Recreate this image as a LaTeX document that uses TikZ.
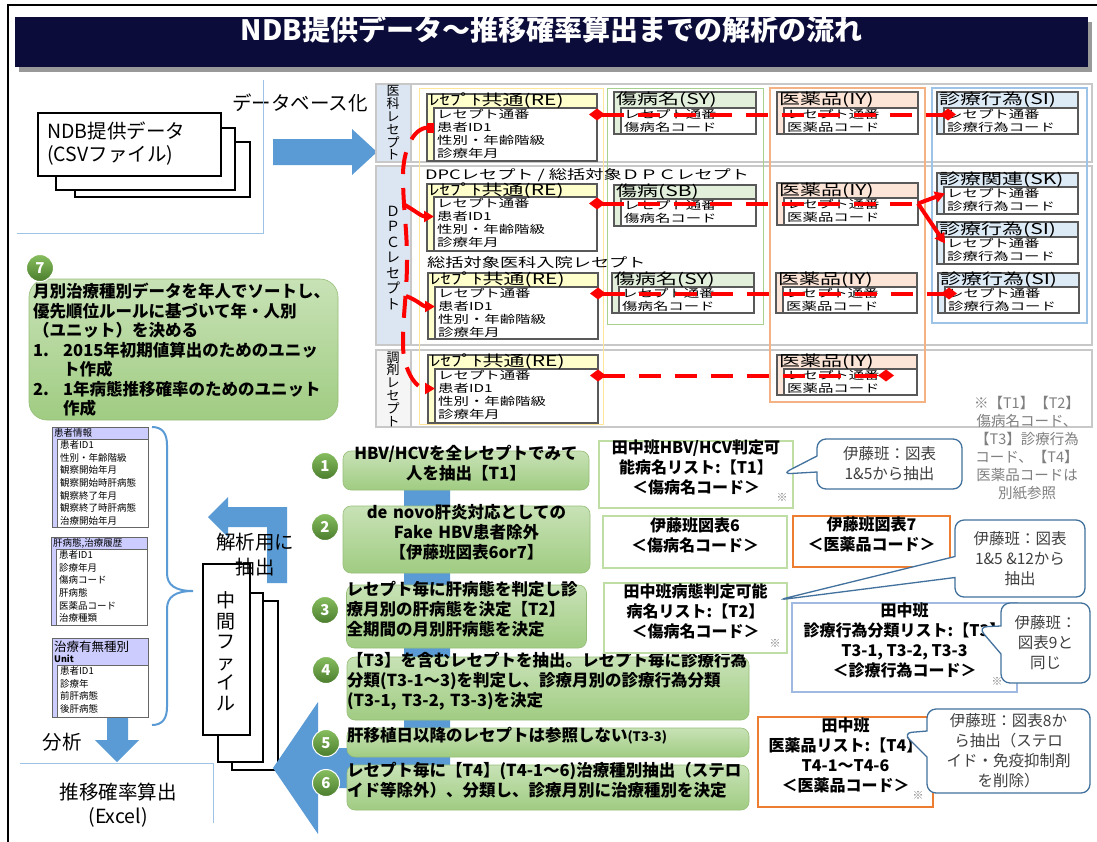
\documentclass[tikz,border=0pt]{standalone}
\usepackage{fontspec}
\setmainfont{Noto Sans CJK JP}
\newfontfamily\dbfont[FakeStretch=1.4]{Noto Sans CJK JP}
\usetikzlibrary{arrows.meta,positioning,fit,shapes.callouts}

\definecolor{titlenavy}{RGB}{12,12,58}
\definecolor{arrowblue}{RGB}{91,155,213}
\definecolor{linkred}{RGB}{255,0,0}
\definecolor{headyellow}{RGB}{255,255,204}
\definecolor{headgreen}{RGB}{226,239,218}
\definecolor{headorange}{RGB}{252,228,214}
\definecolor{headblue}{RGB}{221,235,247}
\definecolor{headpurple}{RGB}{204,204,255}
\definecolor{colyellow}{RGB}{255,230,153}
\definecolor{colgreen}{RGB}{169,209,142}
\definecolor{colorange}{RGB}{244,177,131}
\definecolor{colblue}{RGB}{157,195,230}
\definecolor{sectgray}{RGB}{200,200,200}
\definecolor{labelblue}{RGB}{220,230,242}
\definecolor{steptop}{RGB}{200,226,182}
\definecolor{stepbottom}{RGB}{160,204,130}
\definecolor{stepedge}{RGB}{150,190,120}
\definecolor{numtop}{RGB}{135,190,95}
\definecolor{numbottom}{RGB}{75,125,45}
\definecolor{boxgreen}{RGB}{190,222,165}
\definecolor{boxorange}{RGB}{237,125,49}
\definecolor{boxblue}{RGB}{160,185,225}
\definecolor{callblue}{RGB}{65,113,156}
\definecolor{notegray}{RGB}{128,128,128}
\definecolor{lineblue}{RGB}{157,195,230}

% table of the database panel: name, x1, y1, x2, header bottom, y2, colour, header, rows
\newcommand\dbtab[9]{%
  \draw[dbbox, fill=#7] (#2,#3) rectangle (#4,#6);
  \draw[dbbox, fill=white] ({#2+7},#5) rectangle (#4,#6);
  \node[dbhead, anchor=west] (#1) at ({#2+2},{(#3+#5)/2}) {#8};
  \node[dbrows, anchor=north west] (#1rows) at ({#2+10},{#5+1.5}) {#9};
  \coordinate (#1e) at (#4,{#5+6.5});
  \coordinate (#1w) at (#2,{#5+6.5});
  \coordinate (#1id) at ({#2+7},{#5+19.5});
}
% table of the left column: name, x1, y1, x2, header bottom, y2, header, rows
\newcommand\pttab[8]{%
  \draw[ptbox, fill=headpurple] (#2,#3) rectangle (#4,#6);
  \draw[ptbox, fill=white] ({#2+5},#5) rectangle (#4,#6);
  \node[pthead, anchor=west] (#1) at ({#2+2},{(#3+#5)/2}) {#7};
  \node[ptrows, anchor=north west] (#1rows) at ({#2+8},{#5+1.5}) {#8};
}

\begin{document}
\begin{tikzpicture}[
  x=1pt, y=-1pt,
  docsheet/.style={draw, line width=1.3pt, fill=white, inner sep=0pt},
  titlebar/.style={fill=titlenavy, text=white, inner sep=0pt, font=\bfseries\fontsize{28}{32}\selectfont},
  bigtext/.style={inner sep=0pt, font=\fontsize{19.5}{23}\selectfont},
  sect/.style={draw=sectgray, line width=2pt},
  vlabel/.style={inner sep=0pt, align=center, font=\fontsize{13}{12.8}\selectfont},
  dbbox/.style={draw=black!65, line width=1.2pt},
  dbhead/.style={inner sep=0pt, font=\dbfont\fontsize{15}{16}\selectfont},
  dbrows/.style={inner sep=0pt, align=left, font=\dbfont\fontsize{11}{12.8}\selectfont},
  dbnote/.style={inner sep=0pt, anchor=west, font=\dbfont\fontsize{13}{14}\selectfont},
  reflink/.style={draw=linkred, line width=4pt, dash pattern=on 22pt off 14pt},
  redbranch/.style={draw=linkred, line width=4pt},
  diatips/.style={arrows={Diamond[length=16pt,width=12pt]-Diamond[length=16pt,width=12pt]}},
  ptbox/.style={draw=black!60, line width=1pt},
  pthead/.style={inner sep=0pt, align=left, font=\fontsize{9.5}{11}\selectfont},
  ptrows/.style={inner sep=0pt, align=left, font=\fontsize{9.5}{12.6}\selectfont},
  thinline/.style={draw=lineblue, line width=0.8pt},
  stepbox/.style={rounded corners=8pt, draw=stepedge, line width=0.6pt, top color=steptop,
                  bottom color=stepbottom, inner sep=0pt, font=\bfseries\fontsize{16.5}{20}\selectfont},
  numdot/.style={circle, minimum size=27pt, inner sep=0pt, top color=numtop, bottom color=numbottom,
                 draw=white, line width=1pt, text=white, font=\bfseries\fontsize{15}{15}\selectfont},
  listbox/.style={draw=#1, line width=2.5pt, fill=white, inner sep=0pt, align=center,
                  font=\bfseries\fontsize{16}{20}\selectfont},
  callbox/.style={rectangle callout, draw=callblue, line width=1.3pt, fill=white, rounded corners=9pt,
                  align=center, inner sep=0pt, text=black!75, font=\fontsize{15.5}{20}\selectfont},
  notemark/.style={inner sep=0pt, text=notegray, font=\fontsize{11}{11}\selectfont},
  notetext/.style={inner sep=0pt, align=center, text=notegray, font=\fontsize{14.5}{18}\selectfont},
]
  \useasboundingbox (0,0) rectangle (1097,841);
  \fill[white] (0,0) rectangle (1097,841);
  \draw[line width=2.5pt] (8,845) -- (8,5) -- (1097,5);

  % Title
  \fill[black!40] (19,22) rectangle (1092,72);
  \node[titlebar, fit={(15,17) (1088,67)}] (title) {NDB提供データ～推移確率算出までの解析の流れ};

  % Source files
  \node[docsheet, fit={(75,142) (250,197)}] (ndbC) {};
  \node[docsheet, fit={(56,128) (235,190)}] (ndbB) {};
  \node[docsheet, fit={(38,113) (221,176)}] (ndbA) {};
  \node[bigtext, anchor=west, align=left] (ndb) at (47,144) {NDB提供データ\\(CSVファイル)};
  \node[bigtext] (dbword) at (300,103) {データベース化};
  \draw[thinline] (263,80) -- (263,233) -- (17,233);
  \fill[arrowblue] (273,139) -- (352,139) -- (352,129) -- (377,152) -- (352,175) -- (352,165) -- (273,165) -- cycle;

  % Database panel
  \draw[sect, fill=white] (376,84) rectangle (1092,162);
  \draw[sect, fill=white] (376,166) rectangle (1092,345);
  \draw[sect, fill=white] (376,350) rectangle (1092,427);
  \draw[sect, fill=labelblue] (376,84) rectangle (411,162);
  \draw[sect, fill=labelblue] (376,166) rectangle (411,345);
  \draw[sect, fill=black!4] (376,350) rectangle (411,427);
  \node[vlabel] (labA) at (393,123) {医\\科\\レ\\セ\\プ\\ト};
  \node[vlabel, font=\fontsize{14}{15.5}\selectfont] (labB) at (393,258) {Ｄ\\Ｐ\\Ｃ\\レ\\セ\\プ\\ト};
  \node[vlabel] (labC) at (393,389) {調\\剤\\レ\\セ\\プ\\ト};

  \draw[colyellow, line width=1pt] (419,88) rectangle (603,424);
  \draw[colgreen, line width=1pt] (607,88) rectangle (763,324);
  \draw[colorange, line width=1.2pt] (770,88) rectangle (925,402);
  \draw[colblue, line width=1.2pt] (932,88) rectangle (1087,323);

  \node[dbnote] (dpcnote) at (425,175) {DPCレセプト / 総括対象ＤＰＣレセプト};
  \node[dbnote] (inpnote) at (427,263) {総括対象医科入院レセプト};

  \dbtab{reA}{427}{94}{597}{108}{161}{headyellow}{ﾚｾﾌﾟﾄ共通(RE)}{レセプト通番\\患者ID1\\性別・年齢階級\\診療年月}
  \dbtab{reB}{427}{184}{597}{197}{251}{headyellow}{ﾚｾﾌﾟﾄ共通(RE)}{レセプト通番\\患者ID1\\性別・年齢階級\\診療年月}
  \dbtab{reC}{428}{273}{598}{287}{339}{headyellow}{ﾚｾﾌﾟﾄ共通(RE)}{レセプト通番\\患者ID1\\性別・年齢階級\\診療年月}
  \dbtab{reD}{428}{355}{598}{369}{423}{headyellow}{ﾚｾﾌﾟﾄ共通(RE)}{レセプト通番\\患者ID1\\性別・年齢階級\\診療年月}
  \dbtab{syA}{614}{92}{756}{108}{134}{headgreen}{傷病名(SY)}{レセプト通番\\傷病名コード}
  \dbtab{sbB}{614}{185}{756}{199}{226}{headgreen}{傷病(SB)}{レセプト通番\\傷病名コード}
  \dbtab{syC}{612}{273}{754}{287}{313}{headgreen}{傷病名(SY)}{レセプト通番\\傷病名コード}
  \dbtab{iyA}{777}{92}{918}{108}{134}{headorange}{医薬品(IY)}{レセプト通番\\医薬品コード}
  \dbtab{iyB}{777}{183}{918}{198}{225}{headorange}{医薬品(IY)}{レセプト通番\\医薬品コード}
  \dbtab{iyC}{776}{273}{917}{287}{313}{headorange}{医薬品(IY)}{レセプト通番\\医薬品コード}
  \dbtab{iyD}{777}{355}{917}{369}{395}{headorange}{医薬品(IY)}{レセプト通番\\医薬品コード}
  \dbtab{siA}{937}{92}{1078}{108}{134}{headblue}{診療行為(SI)}{レセプト通番\\診療行為コード}
  \dbtab{skB}{937}{173}{1078}{187}{214}{headblue}{診療関連(SK)}{レセプト通番\\診療行為コード}
  \dbtab{siB}{937}{222}{1078}{237}{264}{headblue}{診療行為(SI)}{レセプト通番\\診療行為コード}
  \dbtab{siC}{938}{273}{1079}{287}{313}{headblue}{診療行為(SI)}{レセプト通番\\診療行為コード}

  % Key links
  \draw[reflink, diatips] ([xshift=-8pt]reAe) -- ([xshift=19pt]siAw);
  \coordinate (dpcj) at (918,203.5);
  \draw[reflink, arrows={Diamond[length=16pt,width=12pt]-}] ([xshift=-8pt]reBe) -- (dpcj);
  \draw[redbranch, -{Triangle[length=10pt,width=11pt]}] (dpcj) -- ([xshift=8pt]skBw);
  \draw[redbranch, -{Triangle[length=10pt,width=11pt]}] (dpcj) -- ([xshift=8pt]siBw);
  \draw[reflink, diatips] ([xshift=-8pt]reCe) -- ([xshift=19pt]siCw);
  \draw[reflink, diatips] ([xshift=-8pt]reDe) -- ([xshift=117pt]iyDw);
  \draw[reflink, arrows={Square[length=7pt,width=10pt]-Triangle[length=10pt,width=11pt]}]
    (reAid) to[out=180,in=90] (403,175) to[out=-90,in=90] (407,260)
    to[out=-90,in=90] (403,345) to[out=-90,in=180] (reDid);
  \draw[redbranch, -{Triangle[length=10pt,width=11pt]}] (405,205) to[out=-30,in=180] (reBid);
  \draw[redbranch, -{Triangle[length=10pt,width=11pt]}] (406,296) to[out=-20,in=180] (reCid);

  % Unit box
  \node[stepbox, rounded corners=18pt, fit={(29,279) (338,420)}] (unitbox) {};
  \node[anchor=north west, inner sep=0pt, align=left, font=\bfseries\fontsize{16.5}{19.5}\selectfont] (unittxt)
    at (33,283) {月別治療種別データを年人でソートし、\\優先順位ルールに基づいて年・人別\\（ユニット）を決める\\
    \makebox[30pt][l]{1.}2015年初期値算出のためのユニッ\\\hspace*{30pt}ト作成\\
    \makebox[30pt][l]{2.}1年病態推移確率のためのユニット\\\hspace*{30pt}作成};
  \node[numdot] (n7) at (40,268) {7};

  % Output tables
  \pttab{ptA}{52}{427}{148}{439}{527}{患者情報}{患者ID1\\性別・年齢階級\\観察開始年月\\観察開始時肝病態\\観察終了年月\\観察終了時肝病態\\治療開始年月}
  \pttab{ptB}{51}{537}{147}{549}{625}{肝病態,治療履歴}{患者ID1\\診療年月\\傷病コード\\肝病態\\医薬品コード\\治療種類}
  \pttab{ptC}{52}{638}{148}{665}{717}{\fontsize{12.5}{12}\selectfont 治療有無種別\\\fontsize{9}{12}\selectfont\bfseries Unit}{患者ID1\\診療年\\前肝病態\\後肝病態}
  \draw[arrowblue, line width=2pt] (152,427) .. controls (162,427) and (167,433) .. (167,445) -- (167,573)
    .. controls (167,585) and (175,591) .. (193,591) .. controls (175,591) and (167,597) .. (167,609)
    -- (167,707) .. controls (167,719) and (162,725) .. (152,725);

  % Intermediate files
  \fill[arrowblue] (208,517) -- (228,497) -- (228,507) -- (287,507) -- (287,583) -- (267,583)
    -- (267,527) -- (228,527) -- (228,537) -- cycle;
  \node[docsheet, fit={(232,601) (278,770)}] (midC) {};
  \node[docsheet, fit={(218,593) (263,762)}] (midB) {};
  \node[docsheet, fit={(203,564) (250,735)}] (midA) {};
  \node[bigtext, align=center, font=\fontsize{19}{20.5}\selectfont] (midtxt) at (226,651) {中\\間\\フ\\ァ\\イ\\ル};
  \node[bigtext] (kaiseki) at (255,542) {解析用に};
  \node[bigtext] (chushutsu) at (255,567) {抽出};

  % Analysis
  \fill[arrowblue] (107,718) -- (128,718) -- (128,740) -- (139,740) -- (117,762) -- (95,740) -- (107,740) -- cycle;
  \node[bigtext] (bunseki) at (62,742) {分析};
  \draw[thinline] (20,763) -- (213,763) -- (213,823);
  \node[bigtext, align=center, font=\fontsize{19.5}{24}\selectfont] (excel) at (118,805) {推移確率算出\\(Excel)};

  % Steps
  \fill[arrowblue] (404,480) -- (450,480) -- (450,788) -- (318,788) -- (318,834) -- (273,768)
    -- (318,702) -- (318,748) -- (404,748) -- cycle;
  \node[stepbox, fit={(343,451) (589,490)}, align=center] (s1) {HBV/HCVを全レセプトでみて\\人を抽出【T1】};
  \node[stepbox, fit={(343,506) (590,573)}, align=center] (s2) {de novo肝炎対応としての\\Fake HBV患者除外\\【伊藤班図表6or7】};
  \node[stepbox, fit={(343,585) (590,648)}, text width=240pt, align=left] (s3)
    {レセプト毎に肝病態を判定し診\\療月別の肝病態を決定【T2】\\全期間の月別肝病態を決定};
  \node[stepbox, fit={(343,657) (753,720)}, text width=402pt, align=left] (s4)
    {【T3】を含むレセプトを抽出。レセプト毎に診療行為\\分類(T3-1～3)を判定し、診療月別の診療行為分類\\(T3-1, T3-2, T3-3)を決定};
  \node[stepbox, fit={(343,728) (753,757)}, text width=402pt, align=left] (s5)
    {肝移植日以降のレセプトは参照しない{\fontsize{13}{15}\selectfont(T3-3)}};
  \node[stepbox, fit={(343,765) (753,810)}, text width=402pt, align=left] (s6)
    {レセプト毎に【T4】(T4-1～6)治療種別抽出（ステロ\\イド等除外）、分類し、診療月別に治療種別を決定};
  \node[numdot] (n1) at (325,466) {1};
  \node[numdot] (n2) at (325,527) {2};
  \node[numdot] (n3) at (325,610) {3};
  \node[numdot] (n4) at (326,670) {4};
  \node[numdot] (n5) at (326,743) {5};
  \node[numdot] (n6) at (326,783) {6};

  % Code lists
  \node[listbox=boxgreen, fit={(599,441) (793,508)}] (listA) {田中班HBV/HCV判定可\\能病名リスト:【T1】\\＜傷病名コード＞};
  \node[listbox=boxgreen, fit={(603,516) (787,568)}] (listB) {伊藤班図表6\\＜傷病名コード＞};
  \node[listbox=boxorange, fit={(793,516) (950,567)}] (listC) {伊藤班図表7\\＜医薬品コード＞};
  \node[listbox=boxgreen, fit={(604,583) (787,653)}] (listD) {田中班病態判定可能\\病名リスト:【T2】\\＜傷病名コード＞};
  \node[listbox=boxblue, fit={(792,603) (1017,692)}] (listE) {田中班\\診療行為分類リスト:【T3】\\T3-1, T3-2, T3-3\\＜診療行為コード＞};
  \node[listbox=boxorange, fit={(758,717) (933,807)}] (listF) {田中班\\医薬品リスト:【T4】\\T4-1～T4-6\\＜医薬品コード＞};
  \node[notemark] (markA) at (782,497) {※};
  \node[notemark] (markD) at (775,643) {※};
  \node[notemark] (markE) at (997,681) {※};
  \node[notemark] (markF) at (918,795) {※};

  % Callouts
  \node[callbox, minimum width=145pt, minimum height=50pt, callout absolute pointer={(782,474)},
        callout pointer width=16pt] (itoA) at (889.5,464) {伊藤班：図表\\1\&5から抽出};
  \node[callbox, minimum width=130pt, minimum height=77pt, callout absolute pointer={(778,600)},
        callout pointer width=21pt] (itoB) at (1020,558.5) {伊藤班：図表\\1\&5 \&12から\\抽出};
  \node[callbox, minimum width=89pt, minimum height=80pt, callout absolute pointer={(978,627)},
        callout pointer width=28pt] (itoC) at (1045.5,643) {伊藤班：\\図表9と\\同じ};
  \node[callbox, minimum width=163pt, minimum height=84pt, callout absolute pointer={(903,733)},
        callout pointer width=26pt] (itoD) at (1008.5,751) {伊藤班：図表8か\\ら抽出（ステロ\\イド・免疫抑制剤\\を削除）};

  \node[notetext] (note) at (1027,448) {※【T1】【T2】\\傷病名コード、\\【T3】診療行為\\コード、【T4】\\医薬品コードは\\別紙参照};
\end{tikzpicture}
\end{document}
